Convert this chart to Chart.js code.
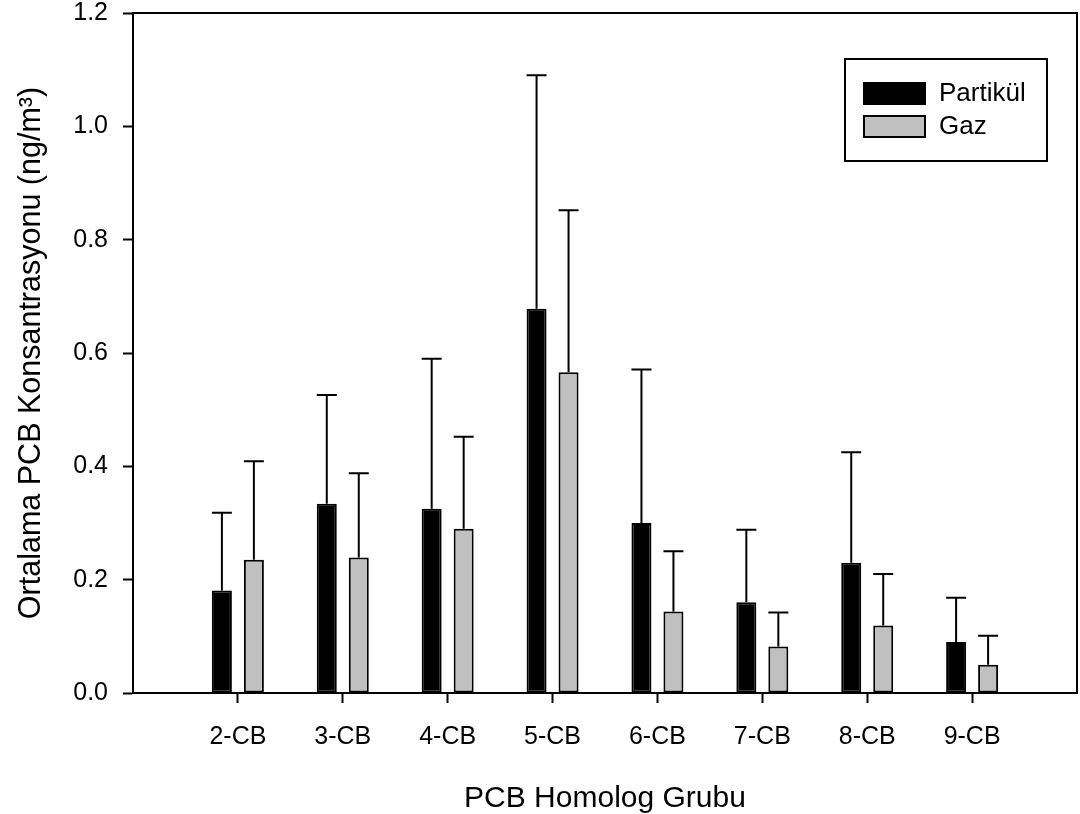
<!DOCTYPE html>
<html>
<head>
<meta charset="utf-8">
<script src="https://cdn.jsdelivr.net/npm/chart.js@4.4.1/dist/chart.umd.min.js"></script>
<style>
  html, body { margin: 0; padding: 0; background: #fff; }
  #wrap { width: 1080px; height: 814px; }
</style>
</head>
<body>
<div id="wrap"><canvas id="chart"></canvas></div>
<script>
const categories = ['2-CB', '3-CB', '4-CB', '5-CB', '6-CB', '7-CB', '8-CB', '9-CB'];
const partikul = [0.181, 0.334, 0.325, 0.678, 0.300, 0.160, 0.230, 0.090];
const partikulErr = [0.137, 0.192, 0.265, 0.412, 0.271, 0.128, 0.195, 0.078];
const gaz = [0.235, 0.239, 0.290, 0.566, 0.144, 0.082, 0.119, 0.050];
const gazErr = [0.174, 0.149, 0.162, 0.286, 0.106, 0.060, 0.091, 0.051];
const yTicks = [0, 0.2, 0.4, 0.6, 0.8, 1.0, 1.2];

const FONT = 'Liberation Sans, Arial, sans-serif';

// empty slot on each side so the groups sit at 1..8 on a 0..9 axis
const pad = arr => [null, ...arr, null];
const labels = ['', ...categories, ''];

// upward error bars with caps
const errorBars = {
  id: 'errorBars',
  afterDatasetsDraw(chart) {
    const ctx = chart.ctx;
    const y = chart.scales.y;
    chart.data.datasets.forEach((ds, di) => {
      const meta = chart.getDatasetMeta(di);
      meta.data.forEach((bar, i) => {
        const v = ds.data[i];
        if (v == null) return;
        const top = y.getPixelForValue(v + ds.errors[i]);
        const half = bar.width / 2;
        ctx.save();
        ctx.strokeStyle = '#000';
        ctx.lineWidth = 2;
        ctx.beginPath();
        ctx.moveTo(bar.x, bar.y);
        ctx.lineTo(bar.x, top);
        ctx.moveTo(bar.x - half, top);
        ctx.lineTo(bar.x + half, top);
        ctx.stroke();
        ctx.restore();
      });
    });
  }
};

// closes the frame on top and right
const frame = {
  id: 'frame',
  afterDraw(chart) {
    const {ctx, chartArea: a} = chart;
    ctx.save();
    ctx.strokeStyle = '#000';
    ctx.lineWidth = 2;
    ctx.beginPath();
    ctx.moveTo(a.left, a.top);
    ctx.lineTo(a.right, a.top);
    ctx.lineTo(a.right, a.bottom);
    ctx.stroke();
    ctx.restore();
  }
};

// boxed legend in the upper right corner
const boxLegend = {
  id: 'boxLegend',
  afterDraw(chart) {
    const ctx = chart.ctx;
    ctx.save();
    ctx.strokeStyle = '#000';
    ctx.lineWidth = 2;
    ctx.strokeRect(845, 59, 202, 102);
    ctx.font = '26px ' + FONT;
    ctx.textBaseline = 'middle';
    ctx.fillStyle = '#000';
    chart.data.datasets.forEach((ds, i) => {
      const top = 83 + i * 33;
      ctx.fillStyle = ds.backgroundColor;
      ctx.fillRect(864, top, 61, 21);
      ctx.strokeRect(864, top, 61, 21);
      ctx.fillStyle = '#000';
      ctx.fillText(ds.label, 939, top + 11);
    });
    ctx.restore();
  }
};

new Chart(document.getElementById('chart'), {
  type: 'bar',
  data: {
    labels: labels,
    datasets: [
      {
        label: 'Partikül',
        data: pad(partikul),
        errors: pad(partikulErr),
        backgroundColor: '#000000',
        borderColor: '#000000',
        borderWidth: 2,
        borderSkipped: false,
        categoryPercentage: 0.61,
        barPercentage: 0.625
      },
      {
        label: 'Gaz',
        data: pad(gaz),
        errors: pad(gazErr),
        backgroundColor: '#c0c0c0',
        borderColor: '#000000',
        borderWidth: 2,
        borderSkipped: false,
        categoryPercentage: 0.61,
        barPercentage: 0.625
      }
    ]
  },
  options: {
    responsive: true,
    maintainAspectRatio: false,
    animation: false,
    layout: { padding: { top: 13, right: 3, left: 0, bottom: 0 } },
    plugins: {
      legend: { display: false },
      tooltip: { enabled: false }
    },
    scales: {
      x: {
        offset: false,
        grid: {
          offset: false,
          drawOnChartArea: false,
          tickLength: 10,
          tickWidth: 2,
          tickColor: c => (c.index === 0 || c.index === labels.length - 1) ? 'rgba(0,0,0,0)' : '#000'
        },
        border: { display: true, color: '#000', width: 2 },
        ticks: {
          color: '#000',
          font: { family: FONT, size: 25 },
          padding: 19,
          maxRotation: 0,
          autoSkip: false
        },
        title: {
          display: true,
          text: 'PCB Homolog Grubu',
          color: '#000',
          font: { family: FONT, size: 30 },
          padding: { top: 0, bottom: -3 }
        },
        afterFit(scale) {
          scale.height = 121;
          scale.paddingLeft = 0;
          scale.paddingRight = 0;
        }
      },
      y: {
        min: 0,
        max: 1.2,
        grid: {
          drawOnChartArea: false,
          tickLength: 10,
          tickWidth: 2,
          tickColor: '#000'
        },
        border: { display: true, color: '#000', width: 2 },
        afterBuildTicks(scale) {
          scale.ticks = yTicks.map(v => ({ value: v }));
        },
        ticks: {
          color: '#000',
          font: { family: FONT, size: 25 },
          padding: 15,
          callback: v => Number(v).toFixed(1)
        },
        title: {
          display: true,
          text: 'Ortalama PCB Konsantrasyonu (ng/m³)',
          color: '#000',
          font: { family: FONT, size: 30.5 },
          padding: { top: 13, bottom: 0 }
        },
        afterFit(scale) {
          scale.width = 133;
          scale.paddingTop = 0;
          scale.paddingBottom = 0;
        }
      }
    }
  },
  plugins: [errorBars, frame, boxLegend]
});
</script>
</body>
</html>
